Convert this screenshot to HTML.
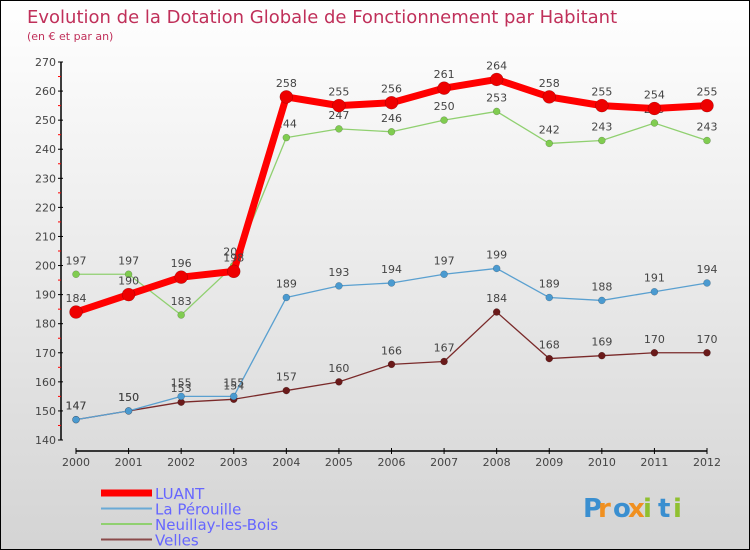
<!DOCTYPE html>
<html><head><meta charset="utf-8"><style>
body{margin:0}
#wrap{position:relative;width:748px;height:548px;border:1px solid #000;background:linear-gradient(#ffffff,#d4d4d4);font-family:"DejaVu Sans","Liberation Sans",sans-serif;overflow:hidden}
svg text{font-family:"DejaVu Sans","Liberation Sans",sans-serif}
</style></head><body>
<div id="wrap">
<svg id="c" width="748" height="548"></svg>
</div>
<script>
const years=[2000,2001,2002,2003,2004,2005,2006,2007,2008,2009,2010,2011,2012];
const luant=[184,190,196,198,258,255,256,261,264,258,255,254,255];
const perouille=[147,150,155,155,189,193,194,197,199,189,188,191,194];
const neuillay=[197,197,183,200,244,247,246,250,253,242,243,249,243];
const velles=[147,150,153,154,157,160,166,167,184,168,169,170,170];
const yTicks=[140,150,160,170,180,190,200,210,220,230,240,250,260,270];
const svg=document.getElementById('c');
const NS='http://www.w3.org/2000/svg';
function X(i){return 75+i*(706-75)/(years.length-1);}
function Y(v){return 439-(v-140)*(439-61)/130;}
function mk(t,a,p){const e=document.createElementNS(NS,t);for(const k in a)e.setAttribute(k,a[k]);(p||svg).appendChild(e);return e;}
function tx(x,y,s,a){const e=mk('text',Object.assign({x:x,y:y},a));e.textContent=s;return e;}
let t=tx(26,22,'Evolution de la Dotation Globale de Fonctionnement par Habitant',{fill:'#c0305a','font-size':18});


t=tx(26,39,'(en € et par an)',{fill:'#c0305a','font-size':11});


let ax=mk('line',{x1:60,y1:61,x2:60,y2:439,stroke:'#000','stroke-width':1.5});


yTicks.forEach((v,i)=>{
 mk('line',{x1:57,y1:Y(v),x2:62,y2:Y(v),stroke:'#000'});
 if(i<yTicks.length-1)mk('line',{x1:57,y1:Y(v+5),x2:60,y2:Y(v+5),stroke:'#f00'});
 const l=tx(55,Y(v)+4,String(v),{fill:'#444','font-size':11,'text-anchor':'end'});
 
 
});
ax=mk('line',{x1:75,y1:450,x2:706,y2:450,stroke:'#000','stroke-width':1.5});


years.forEach((y,i)=>{
 mk('line',{x1:X(i),y1:447,x2:X(i),y2:453,stroke:'#000'});
 const l=tx(X(i),465,String(y),{fill:'#444','font-size':11,'text-anchor':'middle'});
 
 
});
function series(arr,color,w,r,name,dot){
 const g=mk('g',{});
 
 
 mk('polyline',{points:arr.map((v,i)=>X(i)+','+Y(v)).join(' '),fill:'none',stroke:color,'stroke-width':w,'stroke-linejoin':'round'},g);
 arr.forEach((v,i)=>{
  const c=mk('circle',{cx:X(i),cy:Y(v),r:r,fill:dot,stroke:'rgba(0,0,0,0.3)','stroke-width':0.5},g);
  
  
  const l=tx(X(i),Y(v)-10,String(v),{fill:'#444','font-size':11,'text-anchor':'middle'},g);
  
  
 });
}
series(velles,'#7a2a2a',1.3,3.5,'velles','#6a1a1a');
series(perouille,'#5aa0d0',1.3,3.5,'la-perouille','#4a9ad0');
series(neuillay,'#90d070',1.3,3.5,'neuillay-les-bois','#80cc50');
series(luant,'#f00',7,6.5,'luant','#e00');
const leg=[['LUANT','#f00',7],['La Pérouille','#6aaad6',2],['Neuillay-les-Bois','#90d070',2],['Velles','#8a4a4a',2]];
leg.forEach((d,i)=>{
 const y=492+i*15.5;
 const g=mk('g',{});
 
 
 mk('line',{x1:100,y1:y,x2:151,y2:y,stroke:d[1],'stroke-width':d[2]},g);
 tx(154,y+6,d[0],{fill:'#6666ff','font-size':15},g);
});
const lg=mk('g',{});


const cols=['#3a8fd0','#f09020','#3a8fd0','#f09020','#3a8fd0','#90c030'];
'Proxiti'.split('').forEach((ch,i)=>{
 tx(582+i*15,516,ch,{fill:['#3a8fd0','#f09020','#3a8fd0','#f09020','#90c030','#3a8fd0','#90c030'][i],'font-size':26,'font-weight':'bold'},lg);
});
</script>
</body></html>
